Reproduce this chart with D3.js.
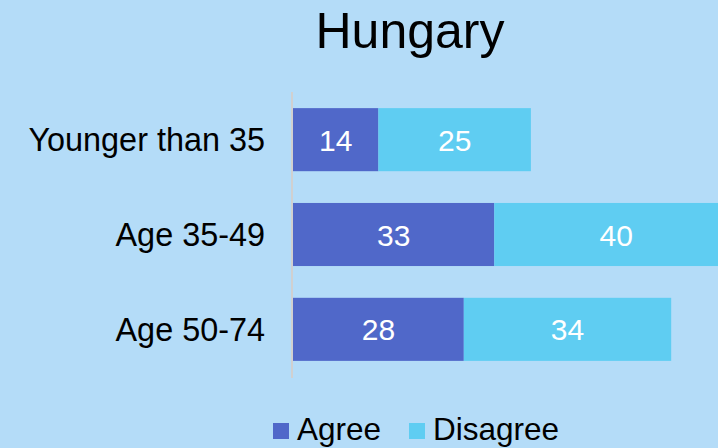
<!DOCTYPE html>
<html>
<head>
<meta charset="utf-8">
<script src="https://cdn.jsdelivr.net/npm/d3@7"></script>
<style>
  html, body { margin: 0; padding: 0; background: #b4dcf8; }
  svg { display: block; font-family: "Liberation Sans", Arial, sans-serif; }
</style>
</head>
<body>
<svg id="chart" width="718" height="448"></svg>
<script>
// data
const categories = ["Younger than 35", "Age 35-49", "Age 50-74"];
const seriesNames = ["Agree", "Disagree"];
const agree = [14, 33, 28];
const disagree = [25, 40, 34];
const colors = ["#5068c9", "#5fcdf2"];

const width = 718, height = 448;
const svg = d3.select("#chart");

svg.append("rect").attr("width", width).attr("height", height).attr("fill", "#b4dcf8");

// title
svg.append("text")
  .attr("x", 410).attr("y", 48)
  .attr("text-anchor", "middle")
  .attr("font-size", 50)
  .attr("fill", "#000")
  .text("Hungary");

// scales
const x = d3.scaleLinear().domain([0, 10]).range([293, 354]);
const y = d3.scaleBand().domain(categories).range([92, 377]).paddingInner(0.335).paddingOuter(0.17);

const rows = categories.map((c, i) => ({ cat: c, vals: [agree[i], disagree[i]] }));
const stacked = d3.stack().keys([0, 1]).value((d, k) => d.vals[k])(rows);

const g = svg.append("g");
stacked.forEach((layer, li) => {
  layer.forEach((d, i) => {
    const cat = categories[i];
    g.append("rect")
      .attr("x", x(d[0]))
      .attr("y", y(cat))
      .attr("width", x(d[1]) - x(d[0]))
      .attr("height", y.bandwidth())
      .attr("fill", colors[li]);
    g.append("text")
      .attr("x", (x(d[0]) + x(d[1])) / 2)
      .attr("y", y(cat) + y.bandwidth() / 2 + 11)
      .attr("text-anchor", "middle")
      .attr("font-size", 30)
      .attr("fill", "#fff")
      .text(d.data.vals[li]);
  });
});

// axis line
svg.append("line")
  .attr("x1", 292).attr("x2", 292)
  .attr("y1", 92).attr("y2", 378)
  .attr("stroke", "#d0d0d0").attr("stroke-width", 2);

// category labels
svg.selectAll(".cat")
  .data(categories)
  .join("text")
  .attr("class", "cat")
  .attr("x", 265)
  .attr("y", d => y(d) + y.bandwidth() / 2 + 11.5)
  .attr("text-anchor", "end")
  .attr("font-size", 32.4)
  .attr("fill", "#000")
  .text(d => d);

// legend
const legendX = [273, 409];
seriesNames.forEach((name, i) => {
  svg.append("rect")
    .attr("x", legendX[i]).attr("y", 423)
    .attr("width", 16).attr("height", 16)
    .attr("fill", colors[i]);
  svg.append("text")
    .attr("x", legendX[i] + 24).attr("y", 440)
    .attr("font-size", 31.5)
    .attr("fill", "#000")
    .text(name);
});
</script>
</body>
</html>
